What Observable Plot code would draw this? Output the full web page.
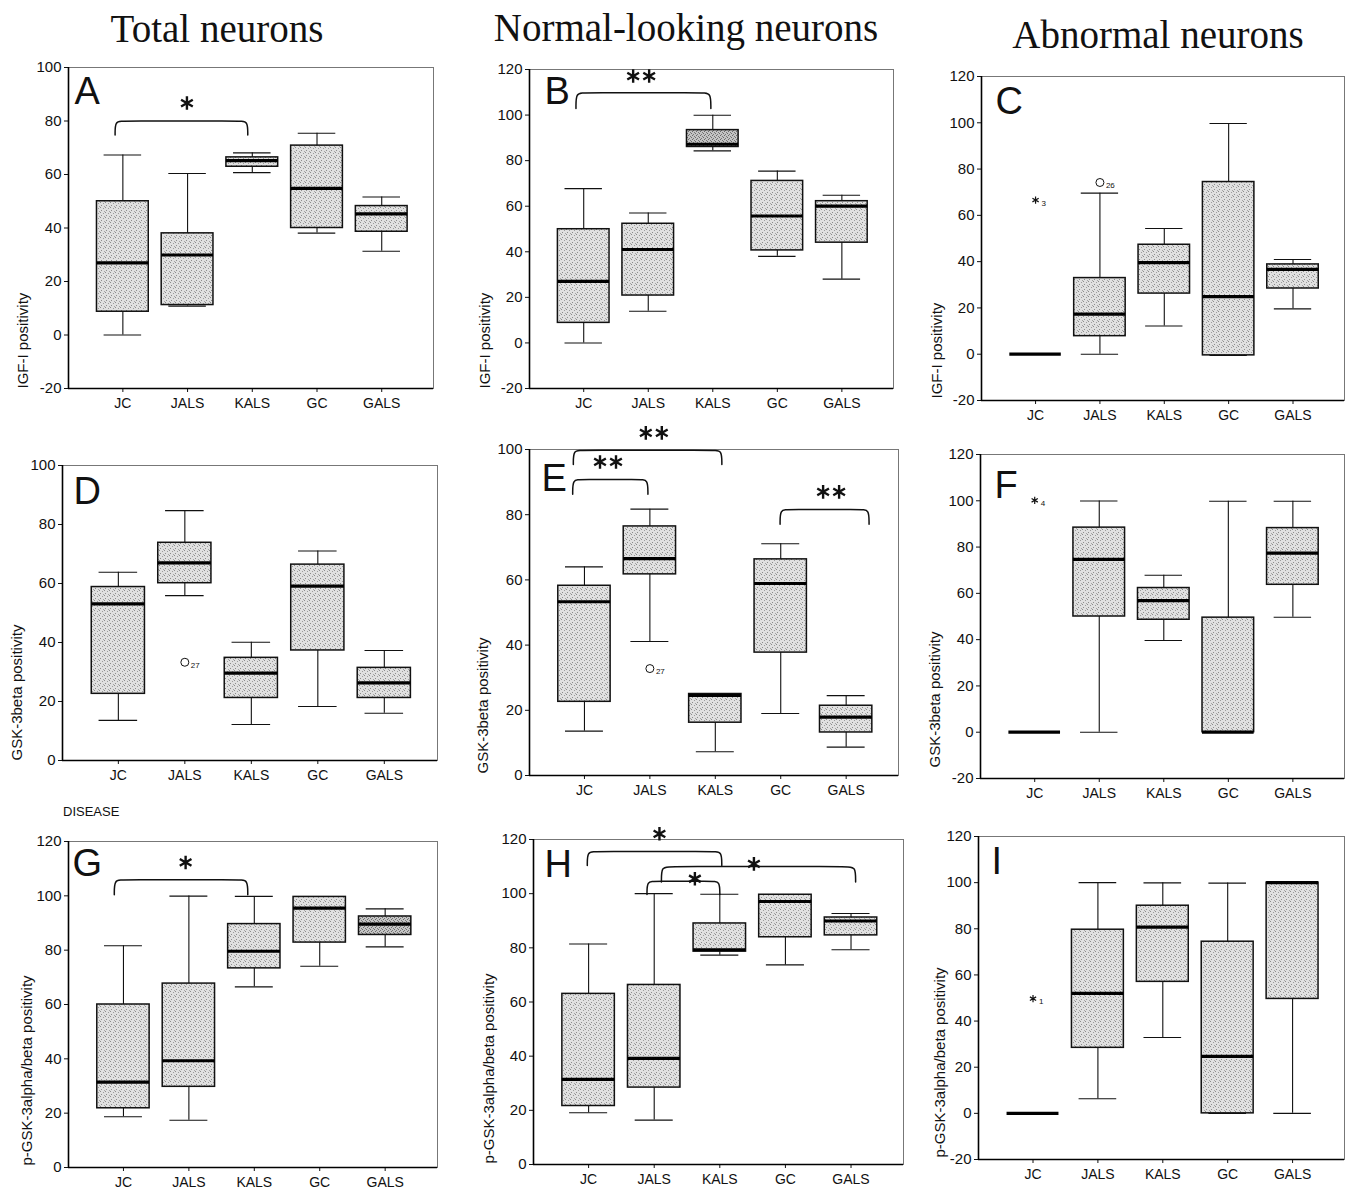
<!DOCTYPE html>
<html><head><meta charset="utf-8">
<script src="https://cdn.jsdelivr.net/npm/d3@7"></script>
<script src="https://cdn.jsdelivr.net/npm/@observablehq/plot@0.6"></script>
<style>
body{margin:0;background:#fff;}
#wrap{position:relative;width:1346px;height:1190px;overflow:hidden;background:#fff;}
.title{position:absolute;font-family:"Liberation Serif","Times New Roman",serif;font-size:39px;line-height:1;color:#111;white-space:nowrap;transform:translateX(-50%);}
.note{position:absolute;font-family:"Liberation Sans",Arial,sans-serif;font-size:13px;line-height:1;color:#111;}
.panel{position:absolute;}
</style></head><body>
<svg width="0" height="0" style="position:absolute">
  <defs>
    <pattern id="stip" width="5" height="5" patternUnits="userSpaceOnUse">
      <rect width="5" height="5" fill="#e0e0e0"/>
      <rect x="0" y="0" width="1" height="1" fill="#8c8c8c"/>
      <rect x="3" y="1" width="1" height="1" fill="#9c9c9c"/>
      <rect x="1" y="3" width="1" height="1" fill="#8c8c8c"/>
      <rect x="4" y="4" width="1" height="1" fill="#a4a4a4"/>
    </pattern>
    <pattern id="stipDense" width="4" height="4" patternUnits="userSpaceOnUse">
      <rect width="4" height="4" fill="#c4c4c4"/>
      <rect x="0" y="0" width="1" height="1" fill="#6a6a6a"/>
      <rect x="2" y="1" width="1" height="1" fill="#777"/>
      <rect x="1" y="2" width="1" height="1" fill="#6a6a6a"/>
      <rect x="3" y="3" width="1" height="1" fill="#777"/>
    </pattern>
  </defs>
</svg>
<div id="wrap"></div>
<script>
// ---------------- DATA ----------------
const categories = ["JC", "JALS", "KALS", "GC", "GALS"];
const columnTitles = ["Total neurons", "Normal-looking neurons", "Abnormal neurons"];
const yLabels = ["IGF-I positivity", "GSK-3beta positivity", "p-GSK-3alpha/beta positivity"];

// five-number summaries per category: [min, q1, median, q3, max]
const statsA = [[0, 8.7, 27, 50, 67.3], [10.8, 11.2, 29.9, 38, 60.4], [60.7, 62.9, 65.2, 66.4, 68.1], [38.1, 40, 54.8, 70.8, 75.4], [31.3, 38.6, 45.3, 48.2, 51.6]];
const statsB = [[0, 8.8, 27, 49.9, 67.7], [13.9, 20.8, 41, 52.3, 57], [84.3, 86, 87.2, 93.4, 99.9], [38, 40.6, 55.7, 71.1, 75.4], [28, 44, 60, 62.2, 64.8]];
const statsC = [[0, 0, 0, 0, 0], [0, 7.8, 17.3, 32.9, 69.6], [12.2, 26.2, 39.6, 47.3, 54.3], [-0.5, -0.5, 24.9, 74.4, 99.7], [19.6, 28.4, 36.7, 38.8, 40.9]];
const statsD = [[13.6, 22.6, 53.1, 58.8, 63.8], [55.9, 60.1, 67, 73.8, 84.7], [12.2, 21.2, 29.6, 34.8, 40.1], [18.3, 37.3, 59.1, 66.4, 71], [16, 21.2, 26.3, 31.4, 37.3]];
const statsE = [[13.6, 22.6, 53.3, 58.2, 64], [41.1, 61.7, 66.5, 76.4, 81.7], [7.3, 16.2, 24.6, 25, 25], [19, 37.7, 58.9, 66.3, 71.1], [8.7, 13.2, 17.9, 21.4, 24.5]];
const statsF = [[0, 0, 0, 0, 0], [0, 50, 74.7, 88.4, 99.9], [39.6, 48.6, 56.9, 62.3, 67.8], [0, 0, 0, 49.5, 99.8], [49.7, 63.7, 77.4, 88.2, 99.8]];
const statsG = [[18.7, 21.8, 31.4, 60, 81.6], [17.4, 29.7, 39.3, 67.7, 99.9], [66.5, 73.3, 79.6, 89.6, 99.8], [74.1, 82.8, 95.5, 99.6, 99.6], [81.2, 85.6, 89.6, 92.4, 95.2]];
const statsH = [[19.1, 21.6, 31.4, 63, 81.4], [16.4, 28.4, 39.2, 66.3, 100], [77.3, 78.6, 79.3, 89, 99.8], [73.7, 83.9, 97.1, 99.6, 99.6], [79.3, 84.6, 89.9, 91.2, 92.7]];
const statsI = [[0, 0, 0, 0, 0], [6.3, 28.4, 52, 79.6, 100], [32.9, 57, 80.7, 90, 99.9], [0, 0, 24.7, 74.4, 99.8], [0, 49.6, 100, 100, 100]];

// outliers: category, value, marker ("o" circle, "*" extreme), case number
const outliersC = [{cat: "JC", v: 66.6, m: "*", id: "3"}, {cat: "JALS", v: 74.2, m: "o", id: "26"}];
const outliersD = [{cat: "JALS", v: 33.3, m: "o", id: "27"}];
const outliersE = [{cat: "JALS", v: 32.8, m: "o", id: "27"}];
const outliersF = [{cat: "JC", v: 100.2, m: "*", id: "4"}];
const outliersI = [{cat: "JC", v: 49.7, m: "*", id: "1"}];

// significance brackets (category-index units / y values), number of stars
const bracketsA = [{from: -0.12, to: 1.93, top: 80, leg: 74.8, sx: 0.99, sy: 86.7, n: 1}];
const bracketsB = [{from: -0.12, to: 1.97, top: 109.8, leg: 102.9, sx: 0.89, sy: 117.1, n: 2}];
const bracketsE = [
  {from: -0.18, to: 0.97, top: 90.8, leg: 86.3, sx: 0.36, sy: 96.2, n: 2},
  {from: -0.17, to: 2.10, top: 99.8, leg: 95.4, sx: 1.06, sy: 105.1, n: 2},
  {from: 2.99, to: 4.35, top: 81.6, leg: 77.1, sx: 3.77, sy: 87, n: 2}
];
const bracketsG = [{from: -0.14, to: 1.90, top: 105.9, leg: 100.4, sx: 0.95, sy: 112.3, n: 1}];
const bracketsH = [
  {from: -0.02, to: 2.03, top: 115.6, leg: 110.4, sx: 1.08, sy: 122.1, n: 1},
  {from: 1.11, to: 4.07, top: 110, leg: 104.3, sx: 2.52, sy: 111, n: 1},
  {from: 0.89, to: 2.0, top: 104.6, leg: 99.7, sx: 1.62, sy: 105.5, n: 1}
];

// ---------------- LAYOUT / STYLE ----------------
const panels = [
  {key: "A", stats: statsA, out: [], br: bracketsA, y: [-20, 100], lab: 0, L: 68, T: 67, R: 433, B: 388, ldx: 6, ldy: 36, ydx: -45, ydy: 0},
  {key: "B", stats: statsB, out: [], br: bracketsB, y: [-20, 120], lab: 0, L: 529, T: 69, R: 893, B: 388, ldx: 15, ldy: 34, ydx: -44, ydy: 0},
  {key: "C", stats: statsC, out: outliersC, br: [], y: [-20, 120], lab: 0, L: 981, T: 76, R: 1344, B: 400, ldx: 14, ldy: 37, ydx: -44, ydy: -2},
  {key: "D", stats: statsD, out: outliersD, br: [], y: [0, 100], lab: 1, L: 62, T: 465, R: 437, B: 760, ldx: 11, ldy: 38, ydx: -45, ydy: 0},
  {key: "E", stats: statsE, out: outliersE, br: bracketsE, y: [0, 100], lab: 1, L: 529, T: 449, R: 898, B: 775, ldx: 12, ldy: 41, ydx: -46, ydy: -2},
  {key: "F", stats: statsF, out: outliersF, br: [], y: [-20, 120], lab: 1, L: 980, T: 454, R: 1344, B: 778, ldx: 14, ldy: 43, ydx: -45, ydy: -11},
  {key: "G", stats: statsG, out: [], br: bracketsG, y: [0, 120], lab: 2, L: 68, T: 841, R: 437, B: 1167, ldx: 4, ldy: 34, ydx: -41, ydy: -2},
  {key: "H", stats: statsH, out: [], br: bracketsH, y: [0, 120], lab: 2, L: 533, T: 839, R: 903, B: 1164, ldx: 11, ldy: 37, ydx: -44, ydy: -1},
  {key: "I", stats: statsI, out: outliersI, br: [], y: [-20, 120], lab: 2, L: 978, T: 836, R: 1344, B: 1159, ldx: 13, ldy: 37, ydx: -38, ydy: -2}
];
const denseBoxes = {B: ["KALS"], G: ["GALS"]};
const xDomain = [-0.84, 4.8];
const boxW = 0.4, capW = 0.29;
const ink = "#111";
const sans = "Liberation Sans, Arial, sans-serif";

const wrap = document.getElementById("wrap");

function makePanel(p) {
  const mL = 58, mT = 40, mR = 2, mB = 30;
  const dense = denseBoxes[p.key] || [];
  const rows = categories.map((c, i) => ({
    cat: c, i, min: p.stats[i][0], q1: p.stats[i][1], med: p.stats[i][2], q3: p.stats[i][3], max: p.stats[i][4], dense: dense.includes(c)
  }));
  const outs = p.out.map(o => ({...o, i: categories.indexOf(o.cat)}));
  const bpts = p.br.flatMap((b, k) => [
    [b.from, b.leg], [b.from, b.top], [b.from + 0.12, b.top], [b.to - 0.12, b.top], [b.to, b.top], [b.to, b.leg]
  ].map(([x, y]) => ({x, y, k})));
  const singles = p.br.filter(b => b.n === 1);
  const doubles = p.br.filter(b => b.n === 2);
  const starOpts = {x: "sx", y: "sy", symbol: "asterisk", r: 6.4, stroke: ink, strokeWidth: 2.4};

  const chart = Plot.plot({
    width: (p.R - p.L) + mL + mR,
    height: (p.B - p.T) + mT + mB,
    marginLeft: mL, marginTop: mT, marginRight: mR, marginBottom: mB,
    style: {fontFamily: sans, fontSize: "14px", background: "transparent", overflow: "visible", color: ink},
    x: {type: "linear", domain: xDomain, axis: null},
    y: {domain: p.y, axis: null},
    marks: [
      Plot.frame({stroke: "#777", strokeWidth: 1}),
      Plot.axisY({ticks: d3.range(p.y[0], p.y[1] + 1, 20), tickFormat: d => String(d), tickSize: 4, tickPadding: 3, fontSize: 15, label: null, stroke: ink}),
      Plot.axisX({ticks: [0, 1, 2, 3, 4], tickFormat: i => categories[i], tickSize: 4, tickPadding: 6, fontSize: 14, label: null, stroke: ink}),
      Plot.ruleX([xDomain[0]], {stroke: "#000", strokeWidth: 1.6}),
      Plot.ruleY([p.y[0]], {stroke: "#000", strokeWidth: 1.6}),
      // whiskers
      Plot.ruleX(rows, {x: "i", y1: "min", y2: "max", stroke: ink, strokeWidth: 1.1}),
      Plot.ruleY(rows, {x1: d => d.i - capW, x2: d => d.i + capW, y: "max", stroke: ink, strokeWidth: 1.1}),
      Plot.ruleY(rows, {x1: d => d.i - capW, x2: d => d.i + capW, y: "min", stroke: ink, strokeWidth: 1.1}),
      // boxes
      Plot.rectY(rows.filter(d => !d.dense), {x1: d => d.i - boxW, x2: d => d.i + boxW, y1: "q1", y2: "q3", fill: "url(#stip)", stroke: ink, strokeWidth: 1.5}),
      Plot.rectY(rows.filter(d => d.dense), {x1: d => d.i - boxW, x2: d => d.i + boxW, y1: "q1", y2: "q3", fill: "url(#stipDense)", stroke: ink, strokeWidth: 1.5}),
      // medians
      Plot.ruleY(rows, {x1: d => d.i - boxW, x2: d => d.i + boxW, y: "med", stroke: "#000", strokeWidth: 3.2}),
      // outliers
      Plot.dot(outs.filter(o => o.m === "o"), {x: "i", y: "v", symbol: "circle", r: 4, stroke: ink, fill: "white", strokeWidth: 1}),
      Plot.dot(outs.filter(o => o.m === "*"), {x: "i", y: "v", symbol: "asterisk", r: 3.4, stroke: ink, strokeWidth: 1.2}),
      Plot.text(outs, {x: "i", y: "v", text: "id", dx: 6, dy: 3, fontSize: 8, textAnchor: "start", fill: ink}),
      // significance brackets
      Plot.line(bpts, {x: "x", y: "y", z: "k", curve: "basis", stroke: ink, strokeWidth: 1.5}),
      Plot.dot(singles, starOpts),
      Plot.dot(doubles, {...starOpts, dx: -8}),
      Plot.dot(doubles, {...starOpts, dx: 8}),
      // panel letter
      Plot.text([p.key], {text: d => d, frameAnchor: "top-left", dx: p.ldx, dy: p.ldy, lineAnchor: "bottom", textAnchor: "start", fontSize: 38, fill: ink}),
      // y label
      Plot.text([yLabels[p.lab]], {text: d => d, frameAnchor: "bottom-left", dx: p.ydx, dy: p.ydy, rotate: -90, textAnchor: "start", lineAnchor: "middle", fontSize: 15, fill: ink})
    ]
  });
  const div = document.createElement("div");
  div.className = "panel";
  div.style.left = (p.L - mL) + "px";
  div.style.top = (p.T - mT) + "px";
  div.appendChild(chart);
  wrap.appendChild(div);
}
panels.forEach(makePanel);

// column titles
const titlePos = [{x: 217, base: 42}, {x: 686, base: 41}, {x: 1158, base: 48}];
columnTitles.forEach((t, k) => {
  const d = document.createElement("div");
  d.className = "title";
  d.textContent = t;
  d.style.left = titlePos[k].x + "px";
  d.style.top = (titlePos[k].base - 32.7) + "px";
  wrap.appendChild(d);
});
const dis = document.createElement("div");
dis.className = "note";
dis.textContent = "DISEASE";
dis.style.left = "63px";
dis.style.top = "805px";
wrap.appendChild(dis);
</script>
</body></html>
